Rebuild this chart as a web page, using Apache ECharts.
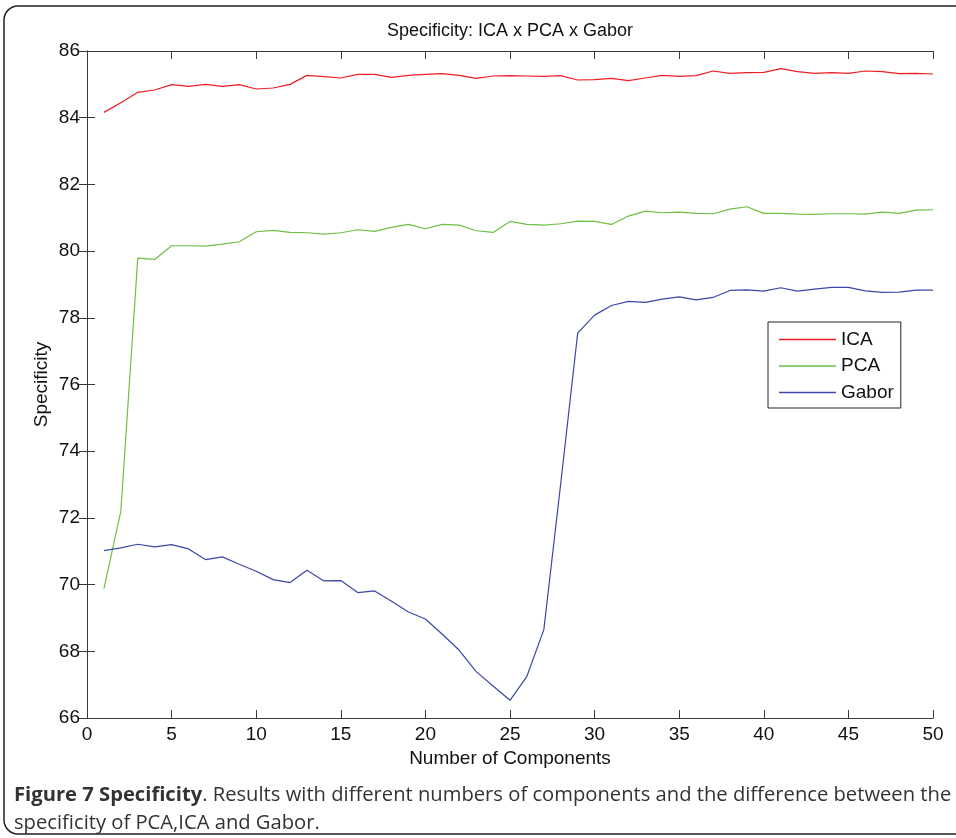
<!DOCTYPE html>
<html>
<head>
<meta charset="utf-8">
<script src="https://cdn.jsdelivr.net/npm/echarts@6/dist/echarts.min.js"></script>
<style>
  html, body { margin: 0; padding: 0; background: #fff; }
  #chart { width: 956px; height: 838px; }
</style>
</head>
<body>
<div id="chart"></div>
<script>
// number of components (x)
const components = [1, 2, 3, 4, 5, 6, 7, 8, 9, 10, 11, 12, 13, 14, 15, 16, 17, 18, 19, 20,
  21, 22, 23, 24, 25, 26, 27, 28, 29, 30, 31, 32, 33, 34, 35, 36, 37, 38, 39, 40,
  41, 42, 43, 44, 45, 46, 47, 48, 49, 50];

const ica = [84.16, 84.45, 84.76, 84.83, 84.99, 84.94, 85.00, 84.94, 84.99, 84.86,
  84.89, 85.00, 85.27, 85.23, 85.19, 85.30, 85.30, 85.21, 85.27, 85.30,
  85.32, 85.27, 85.18, 85.25, 85.26, 85.25, 85.24, 85.26, 85.13, 85.14,
  85.18, 85.11, 85.19, 85.27, 85.24, 85.26, 85.40, 85.33, 85.35, 85.36,
  85.47, 85.38, 85.33, 85.35, 85.33, 85.40, 85.38, 85.32, 85.33, 85.31];

const pca = [69.88, 72.20, 79.79, 79.75, 80.16, 80.16, 80.15, 80.21, 80.28, 80.58,
  80.62, 80.56, 80.55, 80.51, 80.55, 80.64, 80.59, 80.71, 80.80, 80.67,
  80.80, 80.78, 80.61, 80.56, 80.89, 80.80, 80.78, 80.82, 80.90, 80.89,
  80.80, 81.05, 81.20, 81.15, 81.17, 81.13, 81.12, 81.26, 81.33, 81.13,
  81.13, 81.11, 81.10, 81.12, 81.12, 81.11, 81.17, 81.13, 81.23, 81.24];

const gabor = [71.02, 71.10, 71.21, 71.13, 71.20, 71.07, 70.75, 70.83, 70.61, 70.40,
  70.15, 70.06, 70.43, 70.11, 70.12, 69.76, 69.81, 69.50, 69.18, 68.97,
  68.51, 68.03, 67.39, 66.96, 66.53, 67.25, 68.65, 73.04, 77.54, 78.08,
  78.37, 78.49, 78.46, 78.56, 78.63, 78.54, 78.61, 78.82, 78.84, 78.80,
  78.90, 78.80, 78.86, 78.91, 78.91, 78.81, 78.76, 78.77, 78.83, 78.83];

const seriesNames = ['ICA', 'PCA', 'Gabor'];
const seriesColors = ['#ee1d23', '#6dbf45', '#3b47a6'];

const captionLine1 = 'Results with different numbers of components and the difference between the';
const captionLine2 = 'specificity of PCA,ICA and Gabor.';

const font = 'Liberation Sans';
const axisColor = '#3a3a3a';

function pairs(values) {
  return components.map((c, i) => [c, values[i]]);
}

const chart = echarts.init(document.getElementById('chart'));

const boxAxis = {
  axisLine: { show: true, lineStyle: { color: axisColor, width: 1 } },
  axisTick: { show: true, inside: true, length: 8, lineStyle: { color: axisColor } },
  splitLine: { show: false }
};

chart.setOption({
  animation: false,
  color: seriesColors,
  textStyle: { fontFamily: font },
  title: [
    {
      text: 'Specificity: ICA x PCA x Gabor',
      left: 510,
      top: 22,
      padding: 0,
      textAlign: 'center',
      textStyle: { fontFamily: font, fontSize: 18, fontWeight: 'normal', color: '#111' }
    },
    {
      text: '{b|Figure 7 Specificity}. ' + captionLine1,
      left: 14,
      top: 785,
      padding: 0,
      textStyle: {
        fontFamily: 'Open Sans', fontSize: 20.2, fontWeight: 'normal', color: '#333',
        rich: { b: { fontFamily: 'Open Sans', fontSize: 20.2, fontWeight: 'bold', color: '#333' } }
      }
    },
    {
      text: captionLine2,
      left: 14,
      top: 813,
      padding: 0,
      textStyle: { fontFamily: 'Open Sans', fontSize: 20.2, fontWeight: 'normal', color: '#333' }
    }
  ],
  graphic: [
    {
      type: 'rect',
      shape: { x: 4, y: 6, width: 1100, height: 828, r: 14 },
      style: { fill: 'none', stroke: '#222', lineWidth: 1.5 },
      silent: true
    }
  ],
  legend: {
    data: seriesNames,
    orient: 'vertical',
    left: 768,
    top: 322,
    icon: 'rect',
    backgroundColor: '#fff',
    borderColor: '#222',
    borderWidth: 1,
    padding: [8, 7, 6, 11],
    itemWidth: 57,
    itemHeight: 1.5,
    itemGap: 7.5,
    textStyle: { fontFamily: font, fontSize: 19, lineHeight: 19, color: '#111' }
  },
  grid: { left: 87, right: 23, top: 51, bottom: 120, containLabel: false },
  xAxis: [
    Object.assign({}, boxAxis, {
      type: 'value',
      min: 0,
      max: 50,
      interval: 5,
      name: 'Number of Components',
      nameLocation: 'middle',
      nameGap: 31,
      nameMoveOverlap: false,
      nameTextStyle: { fontFamily: font, fontSize: 19, color: '#111' },
      axisLabel: { margin: 7, fontFamily: font, fontSize: 19, color: '#111' }
    }),
    Object.assign({}, boxAxis, {
      type: 'value',
      position: 'top',
      min: 0,
      max: 50,
      interval: 5,
      axisLabel: { show: false }
    })
  ],
  yAxis: [
    Object.assign({}, boxAxis, {
      type: 'value',
      min: 66,
      max: 86,
      interval: 2,
      name: 'Specificity',
      nameLocation: 'middle',
      nameGap: 36,
      nameMoveOverlap: false,
      nameTextStyle: { fontFamily: font, fontSize: 19, color: '#111' },
      axisLabel: { margin: 7, fontFamily: font, fontSize: 19, color: '#111' }
    }),
    Object.assign({}, boxAxis, {
      type: 'value',
      position: 'right',
      min: 66,
      max: 86,
      interval: 2,
      axisLabel: { show: false }
    })
  ],
  series: [
    { name: 'ICA', type: 'line', symbol: 'none', data: pairs(ica), lineStyle: { width: 1.2 } },
    { name: 'PCA', type: 'line', symbol: 'none', data: pairs(pca), lineStyle: { width: 1.2 } },
    { name: 'Gabor', type: 'line', symbol: 'none', data: pairs(gabor), lineStyle: { width: 1.2 } }
  ]
});
</script>
</body>
</html>
